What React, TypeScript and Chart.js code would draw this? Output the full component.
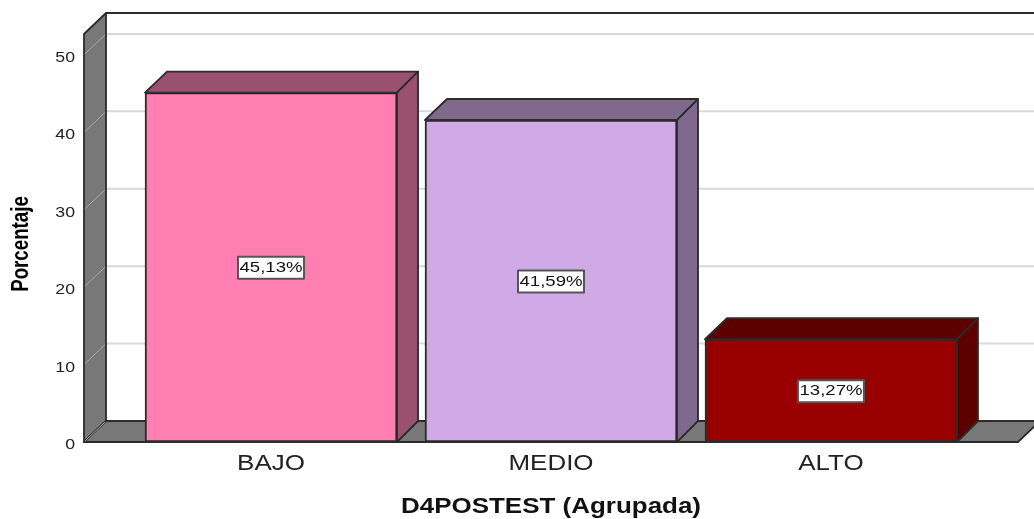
import React, { useEffect, useRef } from "react";
import { Chart, registerables } from "chart.js";

Chart.register(...registerables);

const categories = ["BAJO", "MEDIO", "ALTO"];
const percentages = [45.13, 41.59, 13.27];
const labelsText = ["45,13%", "41,59%", "13,27%"];
const frontColors = ["#ff7fb2", "#cfaae6", "#990000"];
const sideColors = ["#9a5070", "#7f6a8e", "#5c0000"];
const yTitle = "Porcentaje";
const xTitle = "D4POSTEST (Agrupada)";
const gridValues = [0, 10, 20, 30, 40, 50];

const DX = 22;
const DY = 21;
const LINE = "#2b2b2b";
const WIDEN = 1.18;

function poly(ctx: CanvasRenderingContext2D, pts: number[][], fill: string, stroke = LINE, lw = 1.8) {
  ctx.beginPath();
  pts.forEach((p, i) => (i ? ctx.lineTo(p[0], p[1]) : ctx.moveTo(p[0], p[1])));
  ctx.closePath();
  ctx.fillStyle = fill;
  ctx.fill();
  ctx.strokeStyle = stroke;
  ctx.lineWidth = lw;
  ctx.lineJoin = "round";
  ctx.stroke();
}

function stretchedText(ctx: CanvasRenderingContext2D, text: string, x: number, y: number, font: string, sx: number, color: string, rot = 0) {
  ctx.save();
  ctx.translate(x, y);
  ctx.rotate(rot);
  ctx.scale(sx, 1);
  ctx.font = font;
  ctx.fillStyle = color;
  ctx.textAlign = "center";
  ctx.textBaseline = "middle";
  ctx.fillText(text, 0, 0);
  ctx.restore();
}

const box3d = {
  id: "box3d",
  beforeDatasetsDraw(chart: any) {
    const { ctx, chartArea: a, scales } = chart;
    const y = scales.y;
    ctx.save();
    ctx.fillStyle = "#ffffff";
    ctx.fillRect(a.left + DX, a.top - DY, a.right - a.left + DX, a.bottom - a.top);
    poly(ctx, [[a.left, a.bottom], [a.left + DX, a.bottom - DY], [a.left + DX, a.top - DY], [a.left, a.top]], "#787878");
    poly(ctx, [[a.left, a.bottom], [a.left + DX, a.bottom - DY], [a.right + DX, a.bottom - DY], [a.right, a.bottom]], "#787878");
    gridValues.forEach((v) => {
      const py = y.getPixelForValue(v);
      ctx.strokeStyle = "#a8a8a8";
      ctx.lineWidth = 1;
      ctx.beginPath();
      ctx.moveTo(a.left + 1, py - 1);
      ctx.lineTo(a.left + DX - 1, py - DY + 1);
      ctx.stroke();
      if (v > 0) {
        ctx.strokeStyle = "#d9d9d9";
        ctx.lineWidth = 2;
        ctx.beginPath();
        ctx.moveTo(a.left + DX + 1, py - DY);
        ctx.lineTo(1040, py - DY);
        ctx.stroke();
      }
    });
    ctx.strokeStyle = LINE;
    ctx.lineWidth = 2;
    ctx.beginPath();
    ctx.moveTo(a.left + DX, a.top - DY);
    ctx.lineTo(1040, a.top - DY);
    ctx.stroke();
    ctx.restore();
  },
  afterDatasetsDraw(chart: any) {
    const { ctx } = chart;
    const bars = chart.getDatasetMeta(0).data;
    ctx.save();
    bars.forEach((b: any, i: number) => {
      const half = b.width / 2;
      const l = b.x - half;
      const r = b.x + half;
      const t = b.y;
      const bot = b.base;
      poly(ctx, [[l, t], [l + DX, t - DY], [r + DX - 1, t - DY], [r, t]], sideColors[i]);
      poly(ctx, [[r, t], [r + DX - 1, t - DY], [r + DX - 1, bot - DY], [r, bot]], sideColors[i]);
      const cy = (t + bot) / 2 + 0.5;
      ctx.fillStyle = "#ffffff";
      ctx.strokeStyle = "#555555";
      ctx.lineWidth = 2;
      ctx.fillRect(b.x - 33, cy - 11, 66, 22);
      ctx.strokeRect(b.x - 33, cy - 11, 66, 22);
      stretchedText(ctx, labelsText[i], b.x, cy, '14.5px "Liberation Sans"', 1.28, "#111111");
    });
    stretchedText(ctx, yTitle, 21, 244, 'bold 24px "Liberation Sans"', 0.78, "#000000", -Math.PI / 2);
    ctx.restore();
    // axis labels (layers with z > 0) follow this hook: the reference's text is horizontally widened
    const plain = ctx.fillText;
    ctx.fillText = function (text: string, x: number, y: number) {
      ctx.save();
      ctx.translate(x, y);
      ctx.scale(WIDEN, 1);
      plain.call(ctx, text, 0, 0);
      ctx.restore();
    };
  },
  afterDraw(chart: any) {
    delete chart.ctx.fillText;
  },
};

export default function App() {
  const ref = useRef<HTMLCanvasElement>(null);
  useEffect(() => {
    document.body.style.margin = "0";
    document.body.style.overflow = "hidden";
    const chart = new Chart(ref.current as HTMLCanvasElement, {
      type: "bar",
      data: {
        datasets: [
          {
            data: categories.map((_, i) => ({ x: i, y: percentages[i] })),
            backgroundColor: frontColors,
            borderColor: LINE,
            borderWidth: 2,
            borderSkipped: false,
            barThickness: 252,
          },
        ],
      },
      options: {
        animation: false,
        responsive: false,
        layout: { padding: { top: 34, right: 16, left: 0, bottom: 0 } },
        plugins: { legend: { display: false }, tooltip: { enabled: false } },
        scales: {
          x: {
            type: "linear",
            offset: false,
            min: -0.668,
            max: 2.668,
            grid: { display: false, z: 1 },
            border: { display: false },
            afterFit: (s: any) => { s.height = 77; },
            ticks: {
              stepSize: 1,
              includeBounds: false,
              autoSkip: false,
              maxRotation: 0,
              padding: 1,
              z: 1,
              color: "#222222",
              font: { family: '"Liberation Sans"', size: 22 },
              callback: (v: any) => categories[v] ?? "",
            },
            title: {
              display: true,
              text: xTitle,
              color: "#111111",
              padding: { top: 0, bottom: -1 },
              font: { family: '"Liberation Sans"', size: 22, weight: "bold" },
            },
          },
          y: {
            min: 0,
            max: 52.7,
            grid: { display: false },
            border: { display: false },
            afterFit: (s: any) => { s.width = 84; },
            ticks: {
              stepSize: 10,
              includeBounds: false,
              padding: 1,
              z: 1,
              color: "#222222",
              font: { family: '"Liberation Sans"', size: 15, lineHeight: 0.4 },
              callback: (v: any) => ["", String(v)],
            },
          },
        },
      },
      plugins: [box3d],
    } as any);
    return () => chart.destroy();
  }, []);
  return <canvas ref={ref} width={1034} height={519} style={{ display: "block" }} />;
}
